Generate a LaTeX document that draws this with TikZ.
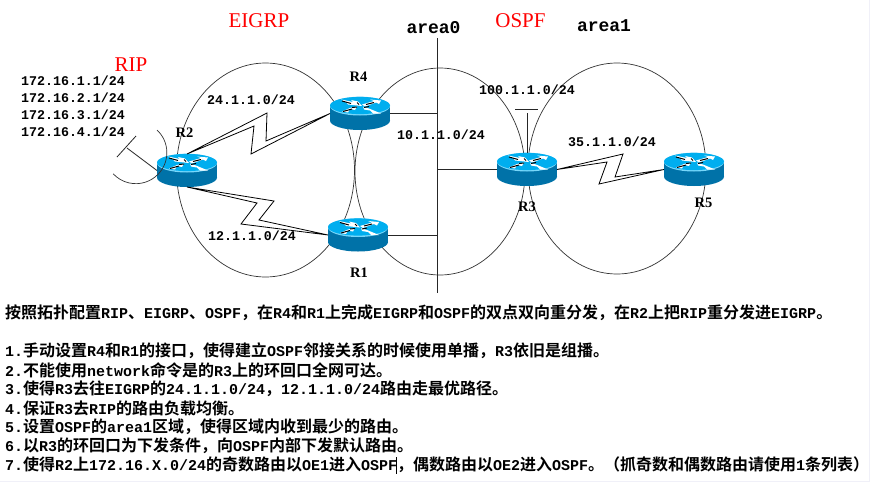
\documentclass[tikz,border=0pt]{standalone}
\usepackage{fontspec}
\setmainfont{Liberation Mono}
\newfontfamily\serifname{Liberation Serif}
\newfontfamily\cjk{Noto Sans CJK SC}[BoldFont={* Bold}]
\newcommand{\cn}[1]{{\cjk\fontsize{16}{16}\selectfont #1}}
\definecolor{rtop}{RGB}{0,174,239}
\definecolor{rside}{RGB}{0,114,168}
\definecolor{rrim}{RGB}{120,215,250}
\definecolor{edgetint}{RGB}{240,240,248}
\tikzset{
  lan/.style={line width=.8pt,draw=black!85},
  serial/.style={line width=.8pt,draw=black,line join=miter},
  ring/.style={line width=.7pt,draw=black!80},
  rlabel/.style={font=\serifname\fontsize{14.5}{14}\selectfont\bfseries,inner sep=0pt},
  proto/.style={font=\serifname\fontsize{21}{20}\selectfont,text=red,inner sep=0pt},
  areaname/.style={font=\fontsize{18}{18}\selectfont\bfseries,inner sep=0pt},
  ipaddr/.style={font=\fontsize{13.3}{14}\selectfont\bfseries,inner sep=0pt},
  task/.style={font=\fontsize{15}{16}\selectfont\bfseries,anchor=west,inner sep=0pt},
  routerbox/.style={minimum width=60pt,minimum height=33pt,inner sep=0pt,outer sep=0pt}
}
\newcommand{\router}[3]{%
  \node[routerbox] (#1) at (#2,#3) {};
  \begin{scope}[shift={(#2,#3)}]
    \fill[rside] (-30,-8) rectangle (30,7);
    \fill[rside] (0,7) ellipse[x radius=30,y radius=9.5];
    \fill[rrim] (0,-7.4) ellipse[x radius=30,y radius=9.4];
    \fill[rtop] (0,-8) ellipse[x radius=30,y radius=8.6];
    \fill[white] (-19,-14) -- (-7,-11.5) -- (-9,-13.5) -- (-2,-12) -- (2,-7.5) -- (-12,-9) -- (-14,-11) -- cycle;
    \fill[white] (2,-9) -- (14,-12.5) -- (10,-14) -- (21,-13) -- (19,-9.5) -- (16,-11) -- (5,-7) -- cycle;
    \fill[white] (-18,-2) -- (-10,-5.5) -- (-3,-7) -- (-5,-3.5) -- (-10,-4.5) -- (-12,-1) -- cycle;
    \fill[white] (3,-7) -- (9,-5) -- (21,0) -- (13,0) -- (10,-3) -- (4,-4) -- cycle;
    \draw[black,line width=1pt] (-18,-12.5) -- (-9,-10) (-3,-11) -- (-1,-9) (-17,-2) -- (-8,-4.5) (-8,-6) -- (-3,-6.5) (6,-9) -- (14,-11) (4,-6) -- (9,-7);
  \end{scope}}

\begin{document}
\begin{tikzpicture}[x=1pt,y=1pt,yscale=-1]
  \useasboundingbox (0,0) rectangle (870,482);
  \fill[white] (0,0) rectangle (870,482);
  \fill[edgetint] (868.5,0) rectangle (870,482);
  \fill[edgetint] (0,480.7) rectangle (870,482);
  % routing domains
  \draw[ring] (265.5,170) ellipse[x radius=89,y radius=107];
  \draw[ring] (440,171.5) ellipse[x radius=85,y radius=103.5];
  \draw[ring] (617,168.5) ellipse[x radius=89,y radius=105.5];
  % routers
  \router{R2}{187}{170.5}
  \router{R4}{360}{113.5}
  \router{R1}{358}{235}
  \router{R3}{527}{169.5}
  \router{R5}{694}{169.5}
  % area0 bus
  \coordinate (bustop) at (437,38);
  \coordinate (busend) at (437,293);
  \draw[lan] (bustop) -- (busend);
  \draw[lan] (R4.east) -- (R4.east -| bustop);
  \draw[lan] (R1.east) -- (R1.east -| bustop);
  \draw[lan] (R3.west) -- (R3.west -| bustop);
  % serial links
  \draw[serial] (R2.north) -- (267,113) -- (266,141) -- (R4.west) -- (251,154) -- (254,126) -- cycle;
  \draw[serial] (R2.south) -- (274,201) -- (259,220) -- (R1.west) -- (241,224) -- (257,203) -- cycle;
  \draw[serial] (R3.east) -- (623,154) -- (615,177) -- (R5.west) -- (599,184) -- (607,162) -- cycle;
  % stub networks
  \coordinate (stubthree) at (527,113);
  \coordinate (barthreea) at (515,109);
  \coordinate (barthreeb) at (538,109);
  \draw[lan] (R3.north) -- (stubthree);
  \draw[lan] (barthreea) -- (barthreeb);
  \coordinate (stubtwo) at (127,148);
  \coordinate (bartwoa) at (117,157);
  \coordinate (bartwob) at (136,136);
  \draw[lan] (R2.west) -- (stubtwo);
  \draw[lan] (bartwoa) -- (bartwob);
  \draw[ring] (157,130) arc(-47:137:31);
  % protocol and area names
  \node[proto] (rip) at (131,65) {RIP};
  \node[proto] (eigrp) at (259,21) {EIGRP};
  \node[proto] (ospf) at (520.5,21) {OSPF};
  \node[areaname] (areazero) at (433.5,28) {area0};
  \node[areaname] (areaone) at (604,26) {area1};
  % router names
  \node[rlabel] (nametwo) at (184.5,133) {R2};
  \node[rlabel] (namefour) at (358.5,77) {R4};
  \node[rlabel] (nameone) at (359,273) {R1};
  \node[rlabel] (namethree) at (527,207) {R3};
  \node[rlabel] (namefive) at (703.5,203) {R5};
  % addresses
  \node[ipaddr] (looponea) at (73,81) {172.16.1.1/24};
  \node[ipaddr] (loopb) at (73,98) {172.16.2.1/24};
  \node[ipaddr] (loopc) at (73,115) {172.16.3.1/24};
  \node[ipaddr] (loopd) at (73,132) {172.16.4.1/24};
  \node[ipaddr] (nettwofour) at (251,100) {24.1.1.0/24};
  \node[ipaddr] (netonetwo) at (252,236) {12.1.1.0/24};
  \node[ipaddr] (netten) at (441,135) {10.1.1.0/24};
  \node[ipaddr] (nethundred) at (527,90) {100.1.1.0/24};
  \node[ipaddr] (netthreefive) at (612,142) {35.1.1.0/24};
  % task list
  \node[task] (intro) at (5,313) {\cn{按照拓扑配置}RIP\cn{、}EIGRP\cn{、}OSPF\cn{，在}R4\cn{和}R1\cn{上完成}EIGRP\cn{和}OSPF\cn{的双点双向重分发，在}R2\cn{上把}RIP\cn{重分发进}EIGRP\cn{。}};
  \node[task] (taska) at (5,351) {1.\cn{手动设置}R4\cn{和}R1\cn{的接口，使得建立}OSPF\cn{邻接关系的时候使用单播，}R3\cn{依旧是组播。}};
  \node[task] (taskb) at (5,370) {2.\cn{不能使用}network\cn{命令是的}R3\cn{上的环回口全网可达。}};
  \node[task] (taskc) at (5,389) {3.\cn{使得}R3\cn{去往}EIGRP\cn{的}24.1.1.0/24\cn{，}12.1.1.0/24\cn{路由走最优路径。}};
  \node[task] (taskd) at (5,408) {4.\cn{保证}R3\cn{去}RIP\cn{的路由负载均衡。}};
  \node[task] (taske) at (5,427) {5.\cn{设置}OSPF\cn{的}area1\cn{区域，使得区域内收到最少的路由。}};
  \node[task] (taskf) at (5,446) {6.\cn{以}R3\cn{的环回口为下发条件，向}OSPF\cn{内部下发默认路由。}};
  \node[task] (taskg) at (5,465) {7.\cn{使得}R2\cn{上}172.16.X.0/24\cn{的奇数路由以}OE1\cn{进入}OSPF\cn{，偶数路由以}OE2\cn{进入}OSPF\cn{。（抓奇数和偶数路由请使用}1\cn{条列表）}};
  \coordinate (carettop) at (396.5,457);
  \coordinate (caretend) at (396.5,474);
  \draw[line width=.6pt] (carettop) -- (caretend);
\end{tikzpicture}
\end{document}
